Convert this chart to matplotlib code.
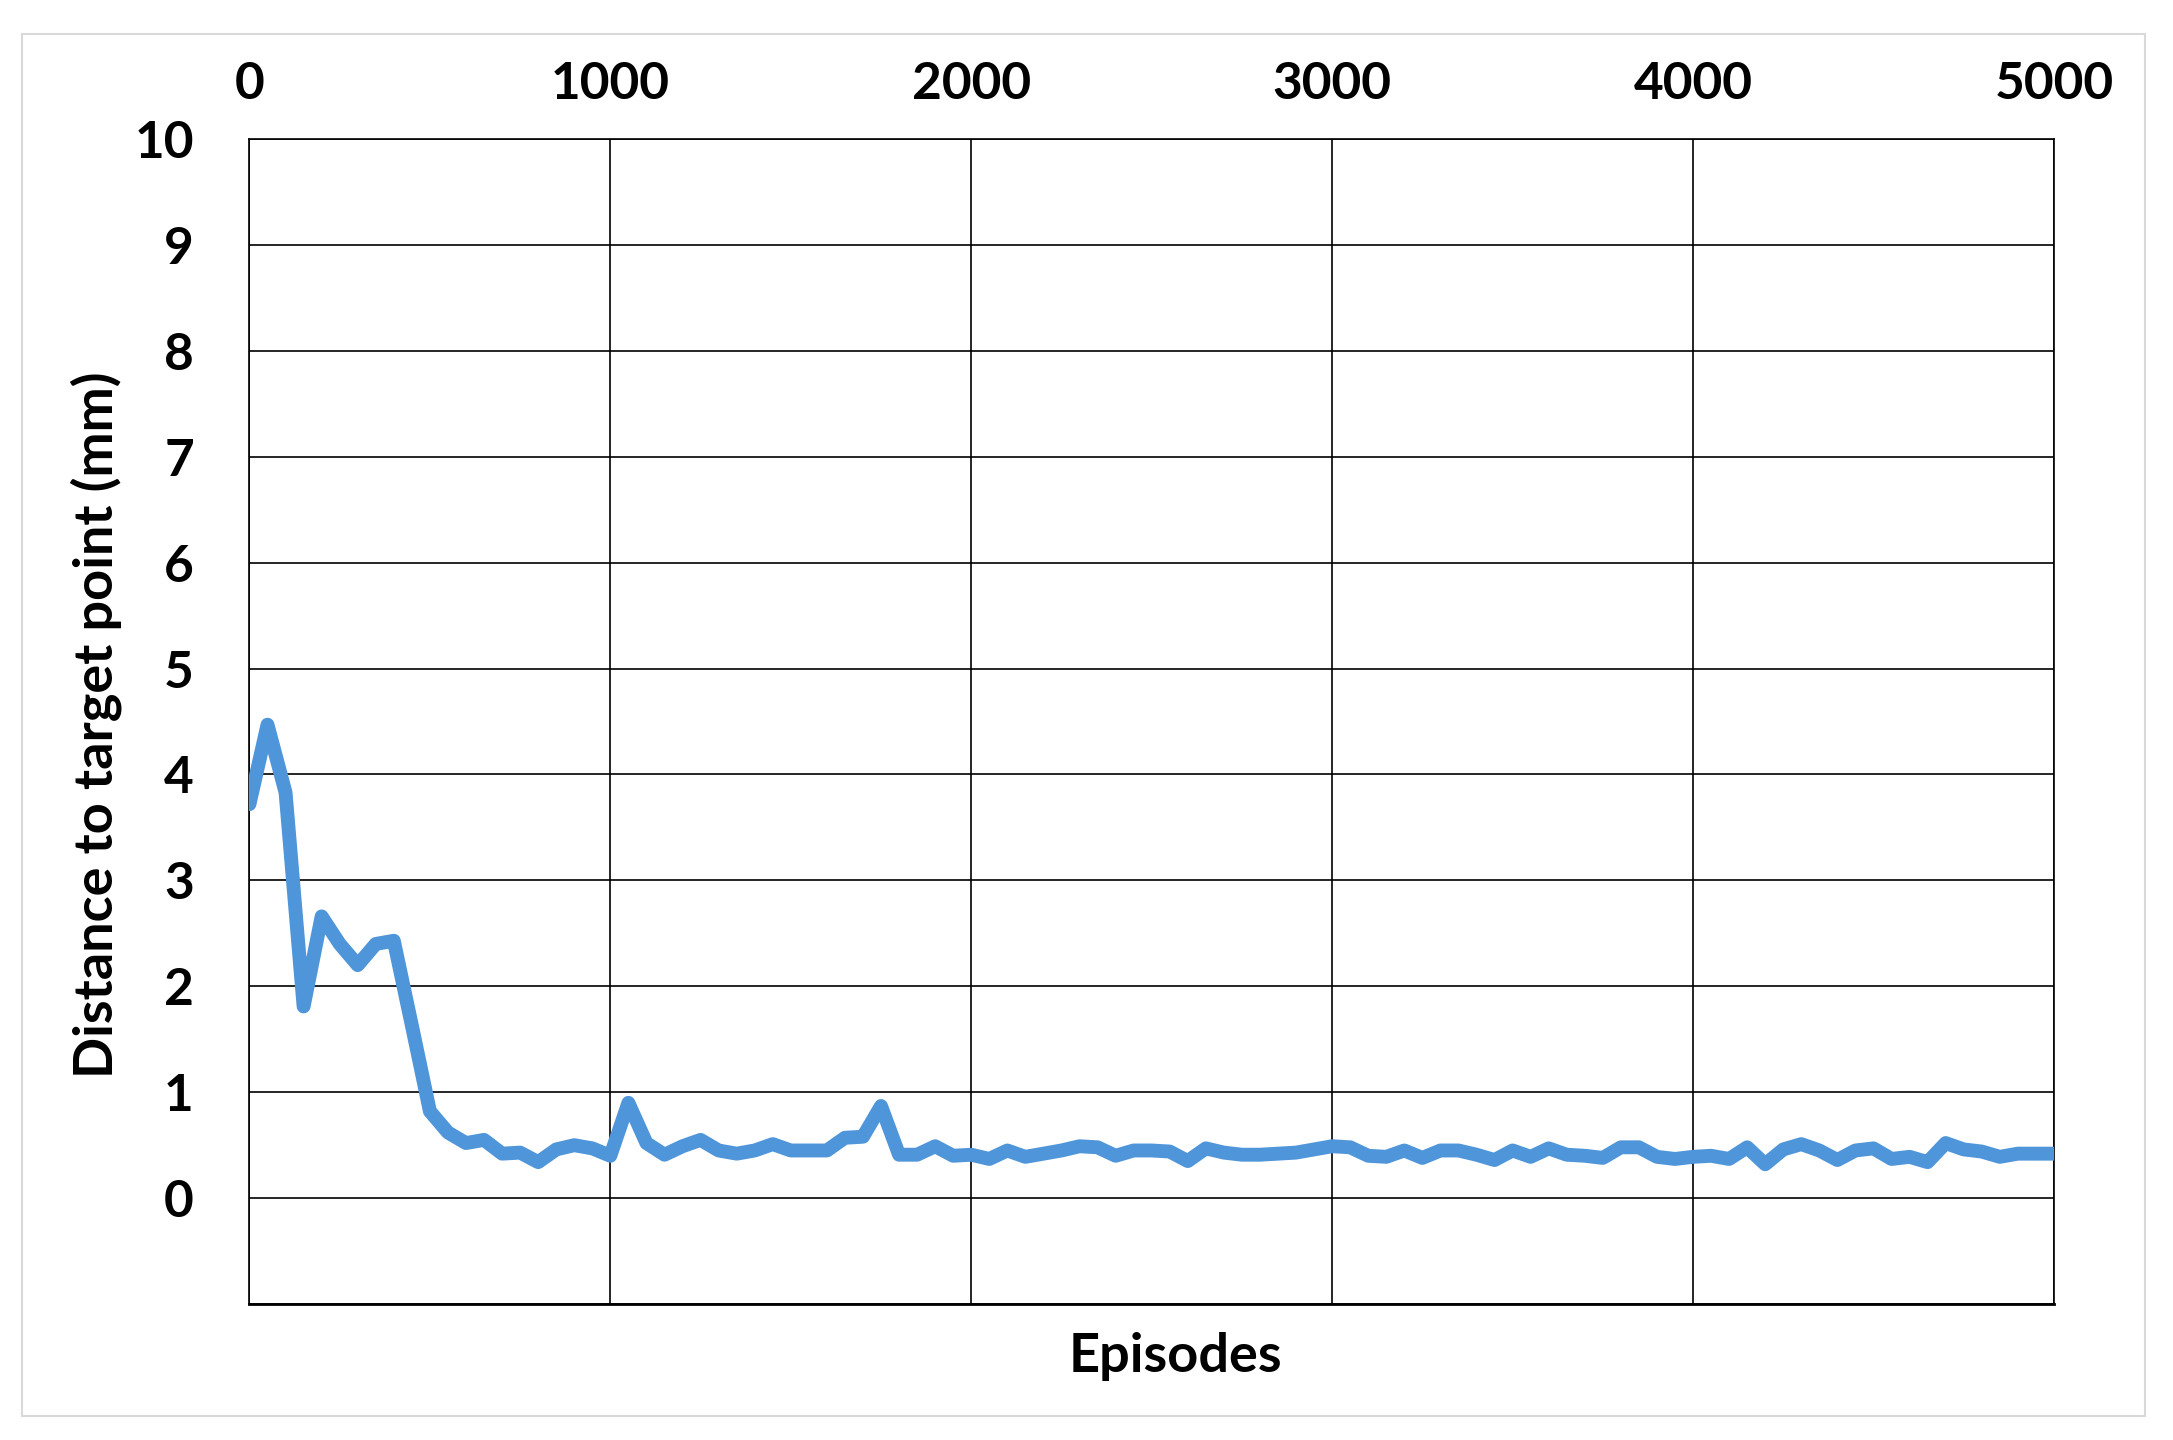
import matplotlib
matplotlib.use("Agg")
import matplotlib.pyplot as plt
from matplotlib.patches import Rectangle

# episodes every 50
episodes = list(range(0, 5001, 50))
distance = [
    3.72, 4.47, 3.83, 1.81, 2.66, 2.40, 2.20, 2.40, 2.43, 1.63,
    0.82, 0.62, 0.52, 0.55, 0.42, 0.43, 0.34, 0.46, 0.50, 0.47,
    0.40, 0.90, 0.52, 0.41, 0.49, 0.55, 0.45, 0.42, 0.45, 0.51,
    0.45, 0.45, 0.45, 0.57, 0.58, 0.87, 0.41, 0.41, 0.49, 0.40,
    0.41, 0.37, 0.45, 0.39, 0.42, 0.45, 0.49, 0.48, 0.40, 0.45,
    0.45, 0.44, 0.35, 0.47, 0.43, 0.41, 0.41, 0.42, 0.43, 0.46,
    0.49, 0.48, 0.40, 0.39, 0.45, 0.38, 0.45, 0.45, 0.41, 0.36,
    0.45, 0.39, 0.47, 0.41, 0.40, 0.38, 0.48, 0.48, 0.39, 0.37,
    0.39, 0.40, 0.37, 0.48, 0.32, 0.46, 0.51, 0.45, 0.36, 0.45,
    0.47, 0.37, 0.39, 0.34, 0.52, 0.46, 0.44, 0.39, 0.42, 0.42,
    0.42,
]
xticks = [0, 1000, 2000, 3000, 4000, 5000]
yticks = list(range(0, 11))

TICK_SIZE = 37
LABEL_SIZE = 39
plt.rcParams['font.family'] = ['Lato', 'DejaVu Sans']
plt.rcParams['font.weight'] = 'bold'

fig = plt.figure(figsize=(21.73, 14.4), dpi=100)
ax = fig.add_axes([0.1148, 0.0944, 0.8304, 0.8091])

# light grey chart border
fig.patches.append(Rectangle((0.0101, 0.0167), 0.977, 0.960, transform=fig.transFigure,
                             fill=False, edgecolor='#d9d9d9', linewidth=1.5))

ax.plot(episodes, distance, color='#4f95d9', linewidth=10,
        solid_joinstyle='round', solid_capstyle='round', zorder=3)

ax.set_xlim(0, 5000)
ax.set_ylim(-1, 10)
ax.set_xticks(xticks)
ax.set_xticklabels([str(t) for t in xticks])
ax.set_yticks([-1] + yticks)
ax.set_yticklabels([''] + [str(t) for t in yticks])
ax.xaxis.tick_top()
ax.tick_params(axis='x', length=0, pad=22, labelsize=TICK_SIZE)
ax.tick_params(axis='y', length=0, pad=40, labelsize=TICK_SIZE)
ax.grid(True, color='black', linewidth=1.2)
for s in ax.spines.values():
    s.set_color('black')
    s.set_linewidth(1.2)
ax.spines['bottom'].set_linewidth(2)

ax.set_xlabel('Episodes', fontsize=LABEL_SIZE, fontweight='bold')
ax.xaxis.set_label_position('bottom')
ax.xaxis.set_label_coords(0.513, -0.024)
ax.set_ylabel('Distance to target point (mm)', fontsize=LABEL_SIZE, fontweight='bold', va='center')
ax.yaxis.set_label_coords(-0.085, 0.497)

fig.savefig('out.png', dpi=100)
